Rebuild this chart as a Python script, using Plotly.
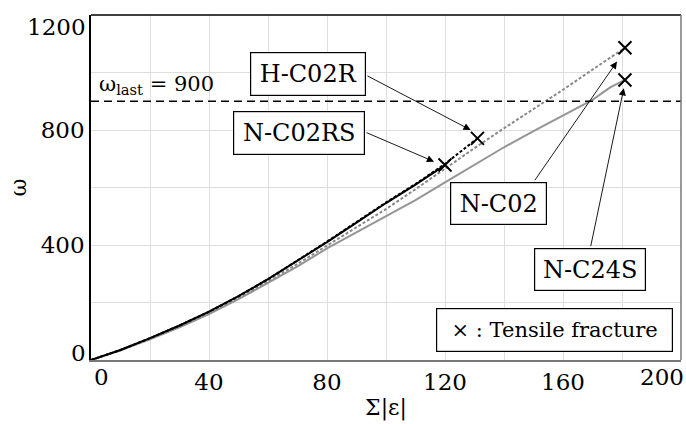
import plotly.graph_objects as go

# ---- data ----
x_hc02r = [0, 10, 20, 30, 40, 50, 60, 70, 80, 90, 100, 110, 120, 131]
y_hc02r = [0, 35, 76, 120, 168, 222, 281, 345, 412, 480, 548, 612, 682, 771]

x_nc02rs = [0, 10, 20, 30, 40, 50, 60, 70, 80, 90, 100, 110, 120]
y_nc02rs = [0, 35, 76, 120, 168, 222, 281, 344, 410, 478, 546, 610, 678]

x_nc02 = [0, 10, 20, 30, 40, 50, 60, 70, 80, 90, 100, 110, 120, 130, 140, 150, 160, 170, 181]
y_nc02 = [0, 34, 74, 117, 164, 217, 274, 334, 398, 460, 525, 594, 666, 737, 806, 872, 940, 1010, 1086]

x_nc24s = [0, 10, 20, 30, 40, 50, 60, 70, 80, 90, 100, 110, 120, 130, 140, 150, 160, 170, 176, 181]
y_nc24s = [0, 34, 72, 114, 160, 212, 268, 326, 388, 444, 500, 556, 618, 680, 740, 796, 850, 905, 948, 974]

omega_last = 900
x_ticks = [0, 20, 40, 60, 80, 100, 120, 140, 160, 180, 200]
x_labels = ["", "", "40", "", "80", "", "120", "", "160", "", ""]
y_ticks = [0, 200, 400, 600, 800, 1000, 1200]
y_labels = ["", "", "400", "", "800", "", ""]

FONT = "DejaVu Serif"
FS_TICK = 23
FS_BOX = 24
FS_LEG = 21
FS_TITLE = 22

fig = go.Figure()

fig.add_trace(go.Scatter(x=x_nc24s, y=y_nc24s, mode="lines",
                         line=dict(color="#959595", width=2)))
fig.add_trace(go.Scatter(x=x_nc02, y=y_nc02, mode="lines",
                         line=dict(color="#888888", width=2, dash="3px,2px")))
fig.add_trace(go.Scatter(x=x_nc02rs, y=y_nc02rs, mode="lines",
                         line=dict(color="black", width=2)))
fig.add_trace(go.Scatter(x=x_hc02r, y=y_hc02r, mode="lines",
                         line=dict(color="black", width=2, dash="3px,2px")))

# fracture markers at the curve ends
ends_x = [x_hc02r[-1], x_nc02rs[-1], x_nc02[-1], x_nc24s[-1]]
ends_y = [y_hc02r[-1], y_nc02rs[-1], y_nc02[-1], y_nc24s[-1]]
fig.add_trace(go.Scatter(x=ends_x, y=ends_y, mode="markers",
                         marker=dict(symbol="x-thin", size=13,
                                     line=dict(color="black", width=2))))

shapes = [
    dict(type="line", xref="paper", yref="y", x0=0, x1=1, y0=omega_last, y1=omega_last,
         line=dict(color="black", width=1.5, dash="8px,5px")),
    dict(type="line", xref="paper", yref="paper", x0=0, x1=1, y0=1, y1=1,
         line=dict(color="black", width=1.5)),
    dict(type="line", xref="paper", yref="paper", x0=1, x1=1, y0=0, y1=1,
         line=dict(color="#777777", width=1.5)),
]

ann = []
def box(text, x, y, w, h, fs):
    ann.append(dict(x=x, y=y, xref="x", yref="y", text=text, showarrow=False,
                    font=dict(family=FONT, size=fs, color="black"),
                    bgcolor="white", bordercolor="black", borderwidth=1.2,
                    borderpad=0, width=w, height=h, align="center", valign="middle"))

def arrow(x0, y0, x1, y1):
    ann.append(dict(x=x1, y=y1, ax=x0, ay=y0, xref="x", yref="y", axref="x", ayref="y",
                    text="", showarrow=True, arrowhead=2, arrowsize=1.6,
                    arrowwidth=0.9, arrowcolor="black"))

arrow(93.2, 991, 128.7, 800)
arrow(92.9, 793, 116.3, 690)
arrow(150.1, 620, 178.3, 1038)
arrow(169.3, 391, 180.6, 945)

box("H-C02R", 73.5, 995, 114, 42, FS_BOX)
box("N-C02RS", 70.6, 790, 130, 42, FS_BOX)
box("N-C02", 138.3, 546, 95, 41, FS_BOX)
box("N-C24S", 169.1, 316, 110, 41, FS_BOX)
box("× : Tensile fracture", 157.2, 104, 235, 42, FS_LEG)

ann.append(dict(x=2.1, y=956, xref="x", yref="y", xanchor="left", yanchor="middle",
                text="ω<sub>last</sub> = 900", showarrow=False,
                font=dict(family=FONT, size=21, color="black")))

# end tick labels shifted inward
ann.append(dict(x=0, y=0, xref="x", yref="paper", text="0", showarrow=False,
                xanchor="center", yanchor="top", xshift=10, yshift=-2,
                font=dict(family=FONT, size=FS_TICK, color="black")))
ann.append(dict(x=200, y=0, xref="x", yref="paper", text="200", showarrow=False,
                xanchor="center", yanchor="top", xshift=-19, yshift=-2,
                font=dict(family=FONT, size=FS_TICK, color="black")))
ann.append(dict(x=0, y=0, xref="paper", yref="y", text="0", showarrow=False,
                xanchor="right", yanchor="middle", xshift=-3, yshift=7,
                font=dict(family=FONT, size=FS_TICK, color="black")))
ann.append(dict(x=0, y=1200, xref="paper", yref="y", text="1200", showarrow=False,
                xanchor="right", yanchor="middle", xshift=-3, yshift=-12,
                font=dict(family=FONT, size=FS_TICK, color="black")))

fig.update_layout(
    width=686, height=424,
    margin=dict(l=91, r=5, t=15, b=64),
    paper_bgcolor="white", plot_bgcolor="white",
    showlegend=False,
    font=dict(family=FONT, size=FS_TICK, color="black"),
    shapes=shapes, annotations=ann,
    xaxis=dict(range=[0, 200], tickvals=x_ticks, ticktext=x_labels,
               showgrid=True, gridcolor="#dedede", gridwidth=1,
               showline=True, linecolor="#777777", linewidth=2,
               ticks="", zeroline=False, ticklabelstandoff=0,
               tickfont=dict(family=FONT, size=FS_TICK),
               title=dict(text="Σ|ε|", standoff=6, font=dict(family=FONT, size=FS_TITLE))),
    yaxis=dict(range=[0, 1200], tickvals=y_ticks, ticktext=y_labels,
               showgrid=True, gridcolor="#dedede", gridwidth=1,
               showline=True, linecolor="black", linewidth=1.5,
               ticks="", zeroline=False,
               tickfont=dict(family=FONT, size=FS_TICK),
               title=dict(text="ω", standoff=8, font=dict(family=FONT, size=FS_TITLE))),
)

fig.write_html("out.html")
